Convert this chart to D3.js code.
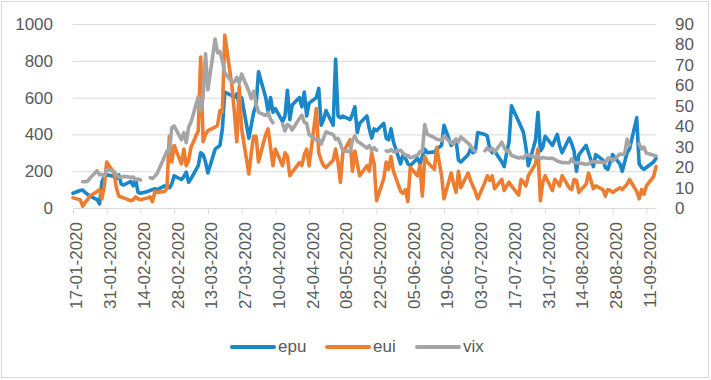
<!DOCTYPE html>
<html>
<head>
<meta charset="utf-8">
<script src="https://cdn.jsdelivr.net/npm/d3@7"></script>
<style>
  body { margin: 0; background: #fff; }
  text { font-family: "Liberation Sans", Arial, sans-serif; }
</style>
</head>
<body>
<script>
// business days from 17-01-2020 to 15-09-2020
const startDate = "2020-01-17";
const endDate = "2020-09-15";

const tickLabels = ["17-01-2020", "31-01-2020", "14-02-2020", "28-02-2020", "13-03-2020", "27-03-2020",
    "10-04-2020", "24-04-2020", "08-05-2020", "22-05-2020", "05-06-2020", "19-06-2020",
    "03-07-2020", "17-07-2020", "31-07-2020", "14-08-2020", "28-08-2020", "11-09-2020"];

const leftTicks = [0, 200, 400, 600, 800, 1000];
const rightTicks = [0, 10, 20, 30, 40, 50, 60, 70, 80, 90];

const epu = [80,
    95, 98, 85, 75, 65,
    45, 22, 140, 175, 180,
    172, 160, 180, 130, 125,
    145, 120, 155, 85, 80,
    90, 95, 100, 105, 100,
    120, 115, 110, 130, 175,
    155, 170, 195, 140, 160,
    230, 300, 290, 250, 190,
    320, 330, 340, 430, 630,
    610, 600, 620, 560, 600,
    380, 450, 520, 560, 740,
    600, 520, 600, 520, 540,
    470, 500, 640, 480, 560,
    600, 550, 630, 500, 570,
    600, 650, 450, 480, 530,
    450, 810, 500, 490, 500,
    480, 510, 550, 410, 460,
    500, 430, 380, 430, 420,
    460, 380, 370, 430, 360,
    240, 290, 270, 240, 230,
    270, 240, 280, 320, 300,
    305, 320, 330, 340, 450,
    340, 360, 370, 260, 250,
    290, 320, 300, 310, 410,
    400, 390, 320, 300, 310,
    250, 225, 300, 360, 555,
    470, 440, 410, 330, 230,
    370, 520, 310, 330, 390,
    340, 370, 400, 340, 300,
    380, 350, 310, 200, 290,
    340, 300, 260, 225, 290,
    260, 220, 210, 250, 290,
    240, 200, 250, 300, 320,
    490, 240, 220, 210, 220,
    250, 270];

const eui = [55,
    45, 10, 30, 45, 65,
    90, 100, 50, 120, 250,
    190, 110, 65, 60, 55,
    40, 45, 60, 50, 45,
    55, 60, 35, 90, 85,
    90, 110, 390, 250, 340,
    240, 320, 230, 260, 330,
    420, 820, 360, 400, 420,
    440, 450, 530, 520, 940,
    660, 520, 360, 660, 430,
    185, 300, 390, 390, 250,
    400, 430, 330, 230, 320,
    230, 300, 280, 175, 195,
    247, 230, 290, 320, 229,
    540, 300, 260, 230, 220,
    260, 320, 250, 140, 300,
    370, 200, 310, 240, 175,
    230, 200, 300, 240, 40,
    160, 250, 210, 280, 200,
    90, 80, 100, 35, 220,
    175, 230, 65, 280, 250,
    210, 330, 250, 175, 50,
    190, 130, 85, 200, 110,
    190, 150, 120, 90, 50,
    140, 175, 150, 175, 105,
    155, 95, 120, 140, 120,
    70, 155, 140, 120, 175,
    240, 320, 40, 140, 175,
    95, 155, 140, 120, 175,
    110, 100, 155, 150, 85,
    130, 190, 150, 105, 120,
    100, 65, 100, 95, 85,
    110, 100, 115, 130, 155,
    90, 50, 100, 75, 120,
    170, 225];

// null = market closed
const vix = [null,
    null, 12.85, 12.91, 12.98, 14.56,
    18.23, 16.28, 16.39, 15.49, 18.84,
    17.97, 16.05, 15.15, 14.96, 15.47,
    15.04, 15.18, 13.74, 14.15, 13.68,
    null, 14.83, 14.38, 15.56, 17.08,
    25.03, 27.85, 27.56, 39.16, 40.11,
    33.42, 36.82, 31.99, 39.62, 41.94,
    54.46, 47.30, 53.90, 75.47, 57.83,
    82.69, 75.91, 76.45, 72.00, 66.04,
    61.59, 61.67, 63.95, 61.00, 65.54,
    57.08, 53.54, 57.06, 50.91, 46.80,
    45.24, 46.70, 43.35, 41.67, null,
    41.17, 37.76, 40.84, 40.11, 38.15,
    43.83, 45.41, 41.98, 41.38, 35.93,
    33.29, 33.57, 31.23, 34.15, 37.19,
    35.97, 33.61, 34.12, 31.44, 27.98,
    27.57, 33.04, 35.28, 32.61, 31.89,
    29.30, 30.53, 27.99, 29.53, 28.16,
    null, 28.01, 27.62, 28.59, 27.51,
    28.23, 26.84, 25.66, 25.81, 24.52,
    25.81, 27.57, 27.57, 40.79, 36.09,
    34.40, 33.67, 33.47, 32.94, 35.12,
    31.77, 31.37, 33.84, 32.22, 34.73,
    31.78, 30.43, 28.62, 27.68, null,
    27.94, 29.43, 28.08, 29.26, 27.29,
    32.19, 29.52, 27.76, 28.00, 25.68,
    24.46, 24.84, 24.32, 26.08, 25.84,
    24.74, 25.44, 24.10, 24.76, 24.46,
    24.28, 23.76, 22.99, 22.65, 22.21,
    22.13, 24.03, 22.28, 22.13, 22.05,
    21.35, 21.51, 22.54, 22.72, 22.54,
    22.37, 22.03, 24.47, 24.47, 22.96,
    26.41, 26.12, 26.57, 33.60, 30.75,
    null, 31.46, 28.81, 29.71, 26.87,
    25.85, 25.59];

const W = 711, H = 380;
const parseIso = d3.utcParse("%Y-%m-%d");
const parseLabel = d3.utcParse("%d-%m-%Y");

const dates = d3.utcDays(parseIso(startDate), d3.utcDay.offset(parseIso(endDate), 1))
    .filter(d => d.getUTCDay() !== 0 && d.getUTCDay() !== 6);

const svg = d3.select("body").append("svg")
    .attr("width", W)
    .attr("height", H);

svg.append("rect")
    .attr("x", 1.5).attr("y", 1.5)
    .attr("width", 707).attr("height", 376)
    .attr("fill", "#fff")
    .attr("stroke", "#d9d9d9");

const x = d3.scaleUtc()
    .domain([parseIso(startDate), parseIso(endDate)])
    .range([73, 656]);
const yL = d3.scaleLinear().domain([0, 1000]).range([208, 24]);
const yR = d3.scaleLinear().domain([0, 90]).range([208, 24]);

// left axis + gridlines
const gL = svg.append("g")
    .attr("transform", "translate(73,0)")
    .call(d3.axisLeft(yL).tickValues(leftTicks).tickFormat(d3.format("d"))
        .tickSizeInner(-583).tickSizeOuter(0).tickPadding(20));
gL.select(".domain").remove();
gL.selectAll(".tick line").attr("stroke", "#d9d9d9");
gL.selectAll("text").attr("fill", "#595959").style("font-size", "17px");

// right axis
const gR = svg.append("g")
    .attr("transform", "translate(656,0)")
    .call(d3.axisRight(yR).tickValues(rightTicks).tickSize(0).tickPadding(19));
gR.select(".domain").remove();
gR.selectAll("text").attr("fill", "#595959").style("font-size", "17px");

// x axis
const gX = svg.append("g")
    .attr("transform", "translate(0,208)")
    .call(d3.axisBottom(x)
        .tickValues(tickLabels.map(parseLabel))
        .tickFormat(d3.utcFormat("%d-%m-%Y"))
        .tickSizeInner(6).tickSizeOuter(0));
gX.select(".domain").attr("stroke", "#d9d9d9").attr("stroke-width", 1.2);
gX.selectAll(".tick line").attr("stroke", "#d9d9d9");
gX.selectAll("text")
    .attr("transform", "rotate(-90)")
    .attr("x", -14)
    .attr("y", 3)
    .attr("dy", "0.35em")
    .style("text-anchor", "end")
    .style("font-size", "17px")
    .attr("fill", "#595959");

const series = [
    { name: "epu", values: epu, scale: yL, color: "#1a87c9" },
    { name: "eui", values: eui, scale: yL, color: "#ed7d31" },
    { name: "vix", values: vix, scale: yR, color: "#a5a5a5" }
];

series.forEach(s => {
    const line = d3.line()
        .defined((d, i) => s.values[i] != null)
        .x(d => x(d))
        .y((d, i) => s.scale(s.values[i]));
    svg.append("path")
        .datum(dates)
        .attr("fill", "none")
        .attr("stroke", s.color)
        .attr("stroke-width", 3.6)
        .attr("stroke-linejoin", "round")
        .attr("stroke-linecap", "round")
        .attr("d", line);
});

// legend
const legendX = [230, 325, 415];
const legend = svg.append("g")
    .selectAll("g")
    .data(series)
    .enter()
    .append("g")
    .attr("transform", (d, i) => `translate(${legendX[i]},347)`);
legend.append("line")
    .attr("x1", 2).attr("x2", 44)
    .attr("stroke", d => d.color)
    .attr("stroke-width", 4)
    .attr("stroke-linecap", "round");
legend.append("text")
    .attr("x", 48)
    .attr("y", 5)
    .style("font-size", "17px")
    .attr("fill", "#595959")
    .text(d => d.name);
</script>
</body>
</html>
